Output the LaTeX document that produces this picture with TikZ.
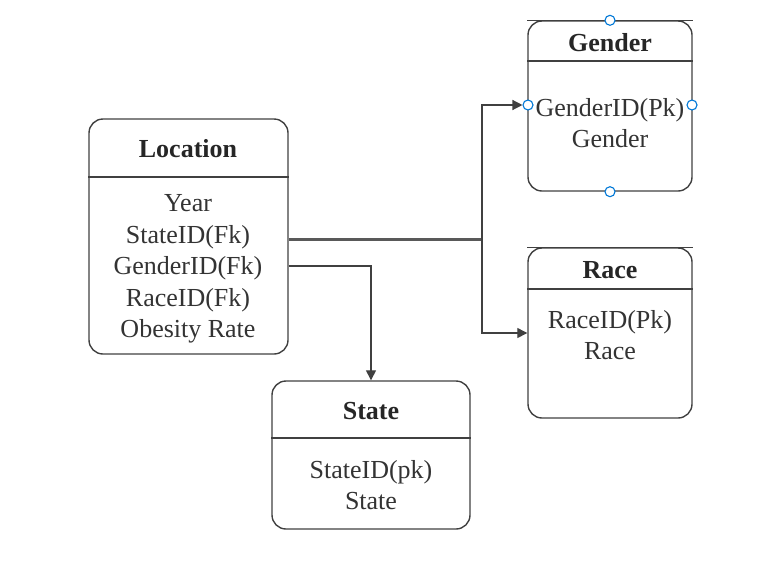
\documentclass[tikz,border=0pt]{standalone}
\usepackage{fontspec}
\setmainfont{Liberation Serif}
\usetikzlibrary{arrows.meta}

\tikzset{
    tbl/.style={draw=black!75, line width=1.4pt, rounded corners=14pt, inner sep=0pt},
    title/.style={font=\fontsize{26}{31}\selectfont\bfseries, text=black!85},
    fields/.style={font=\fontsize{26}{31.5}\selectfont, align=center, text=black!80},
    conn/.style={draw=black!75, line width=1.3pt, -{Triangle[length=10pt,width=10pt]}},
    thickline/.style={draw=black!65, line width=3pt},
    handle/.style={circle, draw={rgb,255:red,0;green,120;blue,215}, fill=white, line width=1.1pt, minimum size=10pt, inner sep=0pt}
}

\begin{document}
\begin{tikzpicture}[x=1pt,y=-1pt]
    \useasboundingbox (0,0) rectangle (775,568);
    % tables
    \node[tbl, minimum width=199pt, minimum height=235pt] (loc) at (188.5,236.5) {};
    \draw[black!75, line width=1.4pt] (loc.west |- 0,177) -- (loc.east |- 0,177);
    \node[title] (loctitle) at (188,149) {Location};
    \node[fields] (locfields) at (188,269) {Year\\StateID(Fk)\\GenderID(Fk)\\RaceID(Fk)\\Obesity Rate};

    \node[tbl, minimum width=164pt, minimum height=170pt] (gen) at (610,106) {};
    \draw[black!75, line width=1.4pt] (gen.north west) -- (gen.north east);
    \draw[black!75, line width=1.4pt] (gen.west |- 0,61) -- (gen.east |- 0,61);
    \node[title] (gentitle) at (610,43) {Gender};
    \node[fields] (genfields) at (610,123) {GenderID(Pk)\\Gender};

    \node[tbl, minimum width=164pt, minimum height=170pt] (race) at (610,333) {};
    \draw[black!75, line width=1.4pt] (race.north west) -- (race.north east);
    \draw[black!75, line width=1.4pt] (race.west |- 0,289) -- (race.east |- 0,289);
    \node[title] (racetitle) at (610,270) {Race};
    \node[fields] (racefields) at (610,335) {RaceID(Pk)\\Race};

    \node[tbl, minimum width=198pt, minimum height=148pt] (state) at (371,455) {};
    \draw[black!75, line width=1.4pt] (state.west |- 0,438) -- (state.east |- 0,438);
    \node[title] (statetitle) at (371,411) {State};
    \node[fields] (statefields) at (371,485) {StateID(pk)\\State};

    % selection handles
    \node[handle] (htop) at (gen.north) {};
    \node[handle] (hleft) at (528,105) {};
    \node[handle] (hright) at (692,105) {};
    \node[handle] (hbottom) at (gen.south) {};

    % connectors
    \coordinate (j) at (482,239);
    \draw[thickline] (loc.east |- j) -- (j);
    \draw[conn] (j) |- (hleft);
    \draw[conn] (j) |- (race.west);
    \draw[conn] (loc.east |- 0,266) -| (state.north);
\end{tikzpicture}
\end{document}
